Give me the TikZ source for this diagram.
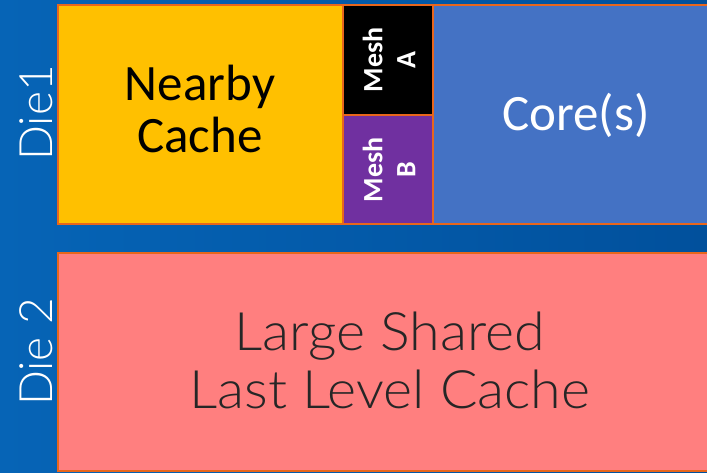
\documentclass[tikz,border=0pt]{standalone}
\usepackage{fontspec}
\setmainfont{Carlito}
\newfontfamily\lightfont{Lato Light}
\definecolor{bgA}{HTML}{0664B6}
\definecolor{bgB}{HTML}{01509C}
\definecolor{edge}{HTML}{E8661C}
\definecolor{cacheyellow}{HTML}{FFC000}
\definecolor{meshpurple}{HTML}{7030A0}
\definecolor{coreblue}{HTML}{4472C4}
\definecolor{llcpink}{HTML}{FF7F7F}
\definecolor{darktext}{HTML}{262626}
\tikzset{
  block/.style={draw=edge, line width=2pt},
  bigtext/.style={font=\fontsize{51}{52}\selectfont, align=center},
  meshtext/.style={font=\fontsize{28}{33}\selectfont\bfseries, text=white, align=center, rotate=90},
  dietext/.style={font=\lightfont\fontsize{46}{46}\selectfont, text=white, rotate=90},
}
\begin{document}
\begin{tikzpicture}[x=1pt, y=-1pt]
  \useasboundingbox (0,0) rectangle (707,472);
  % blue backdrop
  \shade[left color=bgA, right color=bgB] (0,0) rectangle (707,472);

  % die 1 blocks
  \filldraw[block, fill=cacheyellow] (58,5) rectangle (343,224);
  \filldraw[block, fill=black] (343,5) rectangle (433,115);
  \filldraw[block, fill=meshpurple] (343,115) rectangle (433,224);
  \filldraw[block, fill=coreblue] (433,5) rectangle (710,224);

  % die 2 block
  \filldraw[block, fill=llcpink] (58,253) rectangle (710,471);

  % labels
  \node[bigtext, text=black] (nearby) at (200,109) {Nearby\\Cache};
  \node[meshtext] (mesha) at (389,60) {Mesh\\A};
  \node[meshtext] (meshb) at (389,170) {Mesh\\B};
  \node[bigtext, text=white] (core) at (576,115) {Core(s)};
  \node[font=\lightfont\fontsize{53}{58}\selectfont, text=darktext, align=center, xscale=1.05] (llc) at (390,360) {Large Shared\\Last Level Cache};
  \node[dietext] (die1) at (36,113) {Die1};
  \node[dietext] (die2) at (36,352) {Die 2};
\end{tikzpicture}
\end{document}
